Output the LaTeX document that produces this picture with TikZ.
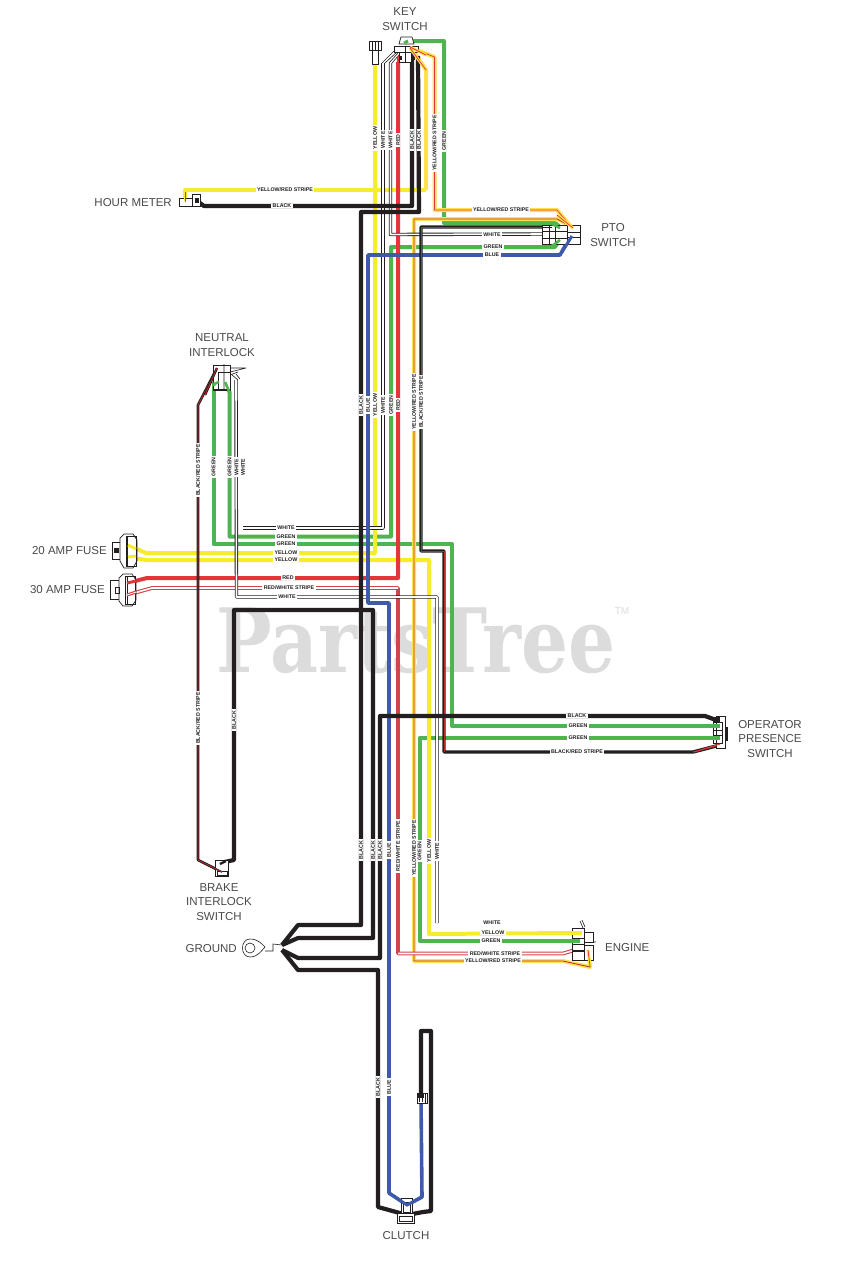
\documentclass[tikz,border=0pt]{standalone}
\usepackage{fontspec}
\setmainfont{Liberation Sans}
\newfontfamily\wmfont{DejaVu Serif}
\definecolor{wYel}{HTML}{F7EC2B}
\definecolor{wPale}{HTML}{FFE14D}
\definecolor{wGrn}{HTML}{4DB450}
\definecolor{wRed}{HTML}{E5343A}
\definecolor{wRedD}{HTML}{D0444A}
\definecolor{wBlu}{HTML}{3F5AA8}
\definecolor{wBlk}{HTML}{231F20}
\definecolor{wmark}{HTML}{DCDCDC}
\definecolor{txt}{HTML}{4A4A4A}
\newcounter{labn}
\newcommand{\hlab}[3]{\stepcounter{labn}\node[wlabel] (lab\thelabn) at (#1,#2) {#3};}
\newcommand{\vlab}[3]{\stepcounter{labn}\node[wlabel,rotate=90] (lab\thelabn) at (#1,#2) {#3};}
\tikzset{
  x=1pt,y=-1pt,
  wirebase/.style={line join=round,line cap=butt},
  wblack/.style={wirebase,draw=wBlk,line width=4.2pt},
  wgreen/.style={wirebase,draw=wGrn,line width=4pt},
  wyellow/.style={wirebase,draw=wYel,line width=4pt},
  wred/.style={wirebase,draw=wRed,line width=4pt},
  wblue/.style={wirebase,draw=wBlu,line width=3.6pt},
  wpale/.style={wirebase,draw=wPale,line width=4pt},
  wcoreW/.style={wirebase,draw=white,line width=1.6pt},
  wcoreR/.style={wirebase,draw=wRed,line width=0.7pt},
  wcoreD/.style={wirebase,draw=wRed!80!black,line width=0.8pt},
  woutK/.style={wirebase,draw=wBlk,line width=3.4pt},
  wredS/.style={wirebase,draw=wRedD,line width=3.8pt},
  conn/.style={draw=wBlk,line width=0.7pt,fill=white},
  thin wire/.style={draw=wBlk,line width=0.6pt},
  wlabel/.style={fill=white,inner xsep=1.4pt,inner ysep=0.6pt,font=\bfseries\fontsize{5.3}{6}\selectfont,text=wBlk},
  part/.style={font=\fontsize{11.5}{14.5}\selectfont,text=txt,align=center,inner sep=0pt},
}
\begin{document}
\begin{tikzpicture}
\useasboundingbox (0,0) rectangle (847,1280);
\fill[white] (0,0) rectangle (847,1280);
% watermark
\node[font=\wmfont\bfseries\fontsize{74}{74}\selectfont,text=wmark,inner sep=0pt,yscale=1.2,anchor=base] (mark) at (416,672) {PartsTree};
\node[font=\fontsize{10}{10}\selectfont,text=wmark,inner sep=0pt] (tm) at (622,611) {TM};

% wire terminals
\coordinate (kYel) at (375,64);
\coordinate (kW1) at (383,63);
\coordinate (kW2) at (390.5,63);
\coordinate (kRed) at (398,62);
\coordinate (kB1) at (412,56);
\coordinate (kB2) at (418,56);
\coordinate (kGrn) at (405,43);
\coordinate (kYA) at (412,49);
\coordinate (kYB) at (412,48);
\coordinate (hYel) at (185,202);
\coordinate (hBlk) at (196,200);
\coordinate (pYB) at (572,228);
\coordinate (pYC) at (572,227);
\coordinate (pG1) at (560,227);
\coordinate (pG2) at (560,239);
\coordinate (pW) at (545,234);
\coordinate (pK) at (542,227);
\coordinate (pBlu) at (570,237);
\coordinate (nK) at (217,368);
\coordinate (nG1) at (218,383);
\coordinate (nG2) at (224,382);
\coordinate (nW1) at (236,380);
\coordinate (nW2) at (243,528);
\coordinate (f1a) at (128,545);
\coordinate (f1b) at (128,557);
\coordinate (f2a) at (127,583);
\coordinate (f2b) at (127,595);
\coordinate (oB) at (716,720);
\coordinate (oG1) at (716,726);
\coordinate (oG2) at (716,738);
\coordinate (oK) at (720,745);
\coordinate (bK) at (222,872);
\coordinate (bB) at (220,863);
\coordinate (gnd) at (282,945);
\coordinate (gnd2) at (282,950);
\coordinate (eW) at (437,923);
\coordinate (eY) at (572,933);
\coordinate (eG) at (572,941);
\coordinate (eR) at (578,949);
\coordinate (eS) at (588,950);
\coordinate (cl1) at (407,1205);
\coordinate (cl2) at (407,1215);
\coordinate (clB) at (421,1100);
\coordinate (clK) at (421,1094);

% green
\draw[wgreen] (kGrn) -- (408,41) -- (444,41) -- (444,223) -- (555,223) -- (pG1);
\draw[wgreen] (pG2) -- (555,247) -- (391,247) -- (391,536.5) -- (229.5,536.5) -- (229.5,392) -- (nG2);
\draw[wgreen] (nG1) -- (213.5,383) -- (213.5,544) -- (452,544) -- (452,726) -- (oG1);
\draw[wgreen] (eG) -- (419.5,941) -- (419.5,738) -- (oG2);
% yellow
\draw[wyellow] (kYel) -- (375,553) -- (146,553) -- (f1a);
\draw[wyellow] (f1b) -- (146,560) -- (429,560) -- (429,934) -- (eY);
% yellow / red stripe
\draw[wpale] (kYA) -- (426,70) -- (426,190);
\draw[wyellow] (426,190) -- (185,190) -- (hYel);
\draw[wcoreR] (kYA) -- (426,70);
\draw[wcoreR] (185,190) -- (hYel);
\draw[wpale] (kYB) -- (434.5,57) -- (434.5,210) -- (557,210) -- (pYB);
\draw[wcoreR] (kYB) -- (434.5,57) -- (434.5,210) -- (557,210) -- (pYB);
\draw[wpale] (pYC) -- (557,219) -- (414,219) -- (414,961) -- (563,961) -- (590,967) -- (eS);
\draw[wcoreD] (pYC) -- (557,219) -- (414,219) -- (414,961) -- (563,961) -- (590,967) -- (eS);
% red
\draw[wred] (kRed) -- (398,578) -- (147,578) -- (f2a);
\draw[wredS] (f2b) -- (152,588) -- (398,588) -- (398,953.5) -- (563,953.5) -- (eR);
\draw[wcoreW] (f2b) -- (152,588) -- (398,588);
\draw[wcoreW] (398,953.5) -- (563,953.5) -- (eR);
% white
\draw[woutK] (kW1) -- (383,528) -- (nW2);
\draw[wcoreW] (kW1) -- (383,528) -- (nW2);
\draw[woutK] (kW2) -- (390.5,234.5) -- (pW);
\draw[wcoreW] (kW2) -- (390.5,234.5) -- (pW);
\draw[woutK] (nW1) -- (236.5,597) -- (437,597) -- (eW);
\draw[wcoreW] (nW1) -- (236.5,597) -- (437,597) -- (eW);
% blue
\draw[wblue] (pBlu) -- (560,255) -- (368,255) -- (368,603) -- (389,603) -- (389,1193) -- (cl1) -- (422,1197) -- (clB);
% black / red
\draw[woutK] (pK) -- (421,227) -- (421,551) -- (444,551) -- (444,752) -- (693,752) -- (oK);
\draw[wcoreD] (pK) -- (421,227) -- (421,551) -- (444,551) -- (444,752);
\draw[wcoreR] (693,752) -- (oK);
\draw[wirebase,draw=wBlk,line width=2.6pt] (nK) -- (198,405) -- (198,860) -- (bK);
\draw[wcoreD] (nK) -- (198,405) -- (198,860) -- (bK);
% black
\draw[wblack] (kB1) -- (412,206) -- (204,206) -- (hBlk);
\draw[wblack] (kB2) -- (419,212) -- (361,212) -- (361,925) -- (298,925) -- (gnd);
\draw[wblack] (bB) -- (234,860) -- (234,610) -- (373,610) -- (373,938) -- (298,938) -- (gnd);
\draw[wblack] (oB) -- (705,716) -- (380,716) -- (380,958) -- (298,958) -- (gnd2);
\draw[wblack] (gnd2) -- (298,970) -- (378,970) -- (378,1207) -- (cl2) -- (423,1212) -- (431,1211) -- (431,1031) -- (421,1031) -- (clK);

% key switch
\draw[conn] (369,41) rectangle (381,50);
\draw[thin wire] (372,41) -- (372,50) (375,41) -- (375,50) (378,41) -- (378,50);
\draw[conn] (372,50) rectangle (378,64);
\draw[conn] (399,44) -- (401,37) -- (412,37) -- (414,44) -- cycle;
\draw[conn] (394,46) rectangle (418,52);
\draw[conn] (399,52) rectangle (411,62);
\draw[thin wire] (405,46) -- (405,62);
\fill[wBlk] (397,56) rectangle (402,60);
\fill[wBlk] (411,52) rectangle (415,60);
\draw[thin wire] (382,63) -- (395,50) (385,63) -- (397,52) (389,63) -- (398,53) (392,63) -- (399,55);
\draw[wcoreR,line width=1.4pt] (398,62) -- (398,56);
\draw[wGrn,line width=3pt] (404,43) -- (408,41);
\draw[wPale,line width=3pt] (410,48) -- (426,70) (410,47) -- (426,55);
\draw[wcoreR] (410,48) -- (426,70) (410,47) -- (426,55);
% hour meter
\draw[conn] (179,198) rectangle (192,206);
\draw[conn] (192,194) rectangle (200,206);
\fill[wBlk] (195,198) rectangle (199,203);
\draw[wYel,line width=2.5pt] (185,190) -- (185,201);
\draw[wcoreR] (185,192) -- (185,202);
% pto switch
\draw[conn] (542,225) rectangle (567,244);
\draw[conn] (567,225) rectangle (580,244);
\draw[thin wire] (549,225) -- (549,244) (555,225) -- (555,244) (542,231) -- (567,231) (542,238) -- (567,238) (567,232) -- (580,232) (567,237) -- (580,237);
\draw[wGrn,line width=2.6pt] (552,224) -- (560,228) (552,246) -- (560,240);
\draw[wPale,line width=3pt] (557,215) -- (573,228);
\draw[wcoreR] (557,215) -- (573,228);
\draw[wBlu,line width=3pt] (562,252) -- (572,236);
\draw[wBlk,line width=1pt] (542,227) -- (552,227);
% neutral interlock
\draw[conn] (213,365) rectangle (230,390);
\draw[conn] (218,372) rectangle (230,389);
\draw[thin wire] (224,364) -- (224,390) (230,368) -- (246,368) (230,372) -- (246,368) (230,375) -- (238,372) (232,375) -- (238,380) (236,374) -- (240,379);
\draw[wBlk,line width=1.4pt] (214,389.5) -- (226,389.5);
\draw[wGrn,line width=2.6pt] (214,386) -- (214,384) -- (219,382) (225,382) -- (229,391);
\draw[woutK,line width=2.4pt] (205,395) -- (217,368);
\draw[wcoreD] (205,395) -- (217,368);
% fuses
\draw[conn] (112,542) rectangle (120,559);
\draw[conn] (120,538) -- (120,561) -- (124,568) -- (133,568) -- (137,561) -- (137,540) -- (133,534) -- (124,534) -- cycle;
\draw[thin wire] (126,536) rectangle (136,566);
\fill[wBlk] (114,548) rectangle (119,553);
\draw[wBlk,line width=1pt] (127,536) -- (127,567);
\draw[conn] (110,580) rectangle (119,599);
\draw[conn] (119,578) -- (119,601) -- (123,606) -- (132,606) -- (136,600) -- (136,580) -- (132,574) -- (123,574) -- cycle;
\draw[thin wire] (125,576) rectangle (135,604) (115,587) rectangle (119,593);
\draw[wBlk,line width=1pt] (127,576) -- (127,605);
\draw[wYel,line width=3pt] (128,545) -- (136,549) (128,557) -- (136,556);
\draw[wRed,line width=3pt] (127,583) -- (136,581) (127,595) -- (136,592);
\draw[wcoreW,line width=0.8pt] (127,595) -- (136,592);
% operator presence switch
\draw[conn] (716,716) rectangle (725,748);
\draw[conn] (713,722) rectangle (722,743);
\draw[thin wire] (716,722) -- (716,743) (713,730) -- (722,730) (713,735) -- (722,735);
\fill[wBlk] (713,717) rectangle (720,722);
\fill[wBlk] (725,727) rectangle (728,741);
\draw[wGrn,line width=3.5pt] (712,726) -- (720,726) (712,738) -- (720,738);
\draw[wRed,line width=1pt] (694,752) -- (720,744);
% brake interlock
\draw[conn] (215,860) rectangle (228,876);
\draw[thin wire] (217,871) rectangle (227,875);
\draw[wBlk,line width=2.4pt] (220,864) -- (226,861);
\draw[wirebase,draw=wBlk,line width=1.6pt] (198,860) -- (222,872);
\draw[wcoreD] (198,860) -- (222,872);
% ground
\node[circle,draw=wBlk,line width=0.6pt,minimum size=10pt,inner sep=0pt] (lug) at (250,948) {};
\draw[thin wire] (250,939) .. controls (258,939) and (262,944) .. (265,947) .. controls (262,950) and (258,957) .. (250,957) .. controls (240,957) and (240,939) .. (250,939);
\draw[thin wire] (265,951) -- (273,951) -- (273,944) -- (gnd);
% engine
\draw[conn] (572,928) rectangle (584,960);
\draw[thin wire] (572,938) -- (584,938);
\draw[wBlk,line width=1.1pt] (572,944.5) -- (584,944.5) (572,951) -- (584,951);
\draw[conn] (584,932) rectangle (593,942);
\draw[conn] (584,945) rectangle (593,960);
\draw[thin wire] (580,921) -- (583,928) (582,920) -- (585,927) (593,942) -- (596,942);
\draw[wYel,line width=3.5pt] (566,933) -- (582,933);
\draw[wGrn,line width=3.5pt] (566,941) -- (580,941);
\draw[wYel,line width=3pt] (588,950) -- (590,966);
\draw[wcoreR] (588,950) -- (590,966);
% clutch
\draw[conn] (401,1198) rectangle (412,1213);
\draw[thin wire] (403,1202) rectangle (410,1212);
\draw[wBlu,line width=3pt] (389,1193) -- (407,1205) -- (422,1197);
\draw[conn] (397,1213) rectangle (414,1223);
\draw[thin wire] (399,1216) rectangle (412,1221);
\draw[conn] (417,1093) rectangle (427,1103);
\fill[wBlk] (418,1094) rectangle (424,1098);
\draw[thin wire] (419,1098) -- (419,1102) (422,1098) -- (422,1102) (425,1094) -- (425,1103);

% wire labels
\vlab{375}{138}{YELLOW}
\vlab{383}{140}{WHITE}
\vlab{390.5}{140}{WHITE}
\vlab{398}{140}{RED}
\vlab{412}{140}{BLACK}
\vlab{419}{140}{BLACK}
\vlab{434.5}{143}{YELLOW/RED STRIPE}
\vlab{444}{141}{GREEN}
\hlab{501}{210}{YELLOW/RED STRIPE}
\hlab{492}{234.5}{WHITE}
\hlab{493}{247}{GREEN}
\hlab{492}{255}{BLUE}
\hlab{285}{190}{YELLOW/RED STRIPE}
\hlab{282}{206}{BLACK}
\vlab{361}{405}{BLACK}
\vlab{368}{405}{BLUE}
\vlab{375}{405}{YELLOW}
\vlab{383}{405}{WHITE}
\vlab{391}{405}{GREEN}
\vlab{398}{405}{RED}
\vlab{414}{402}{YELLOW/RED STRIPE}
\vlab{421}{402}{BLACK/RED STRIPE}
\vlab{198}{470}{BLACK/RED STRIPE}
\vlab{213.5}{467}{GREEN}
\vlab{229.5}{467}{GREEN}
\vlab{236.5}{467}{WHITE}
\vlab{243}{467}{WHITE}
\hlab{286}{528}{WHITE}
\hlab{286}{536.5}{GREEN}
\hlab{286}{544}{GREEN}
\hlab{286}{553}{YELLOW}
\hlab{286}{560}{YELLOW}
\hlab{288}{578}{RED}
\hlab{289}{588}{RED/WHITE STRIPE}
\hlab{287}{597}{WHITE}
\vlab{198}{718}{BLACK/RED STRIPE}
\vlab{234}{720}{BLACK}
\hlab{577}{716}{BLACK}
\hlab{578}{726}{GREEN}
\hlab{578}{738}{GREEN}
\hlab{577}{752}{BLACK/RED STRIPE}
\vlab{361}{850}{BLACK}
\vlab{373}{850}{BLACK}
\vlab{380}{850}{BLACK}
\vlab{389}{850}{BLUE}
\vlab{398}{846}{RED/WHITE STRIPE}
\vlab{414}{848}{YELLOW/RED STRIPE}
\vlab{419.5}{851}{GREEN}
\vlab{429}{851}{YELLOW}
\vlab{437}{851}{WHITE}
\hlab{492}{923}{WHITE}
\hlab{493}{933}{YELLOW}
\hlab{491}{941}{GREEN}
\hlab{495}{953.5}{RED/WHITE STRIPE}
\hlab{493}{961}{YELLOW/RED STRIPE}
\vlab{378}{1087}{BLACK}
\vlab{389}{1087}{BLUE}

% part labels
\node[part] (tKey) at (405,19) {KEY\\SWITCH};
\node[part,anchor=east] (tHour) at (172,203) {HOUR METER};
\node[part] (tPto) at (613,235) {PTO\\SWITCH};
\node[part] (tNeu) at (222,345) {NEUTRAL\\INTERLOCK};
\node[part,anchor=east] (tF1) at (107,551) {20 AMP FUSE};
\node[part,anchor=east] (tF2) at (105,590) {30 AMP FUSE};
\node[part] (tOps) at (770,739) {OPERATOR\\PRESENCE\\SWITCH};
\node[part] (tBrk) at (219,902) {BRAKE\\INTERLOCK\\SWITCH};
\node[part,anchor=east] (tGnd) at (237,949) {GROUND};
\node[part,anchor=west] (tEng) at (605,948) {ENGINE};
\node[part] (tClu) at (406,1236) {CLUTCH};
\end{tikzpicture}
\end{document}
